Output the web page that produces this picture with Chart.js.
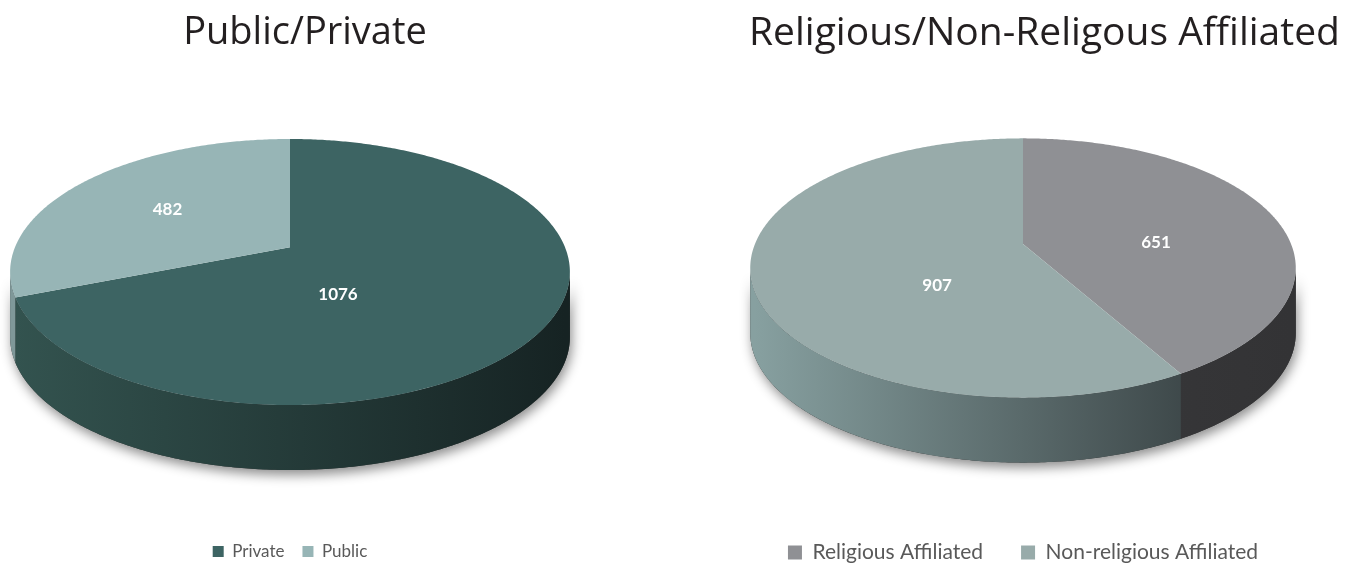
<!DOCTYPE html>
<html>
<head>
<meta charset="utf-8">
<script src="https://cdn.jsdelivr.net/npm/chart.js@4.4.0/dist/chart.umd.min.js"></script>
<style>
  body { margin: 0; background: #fff; overflow: hidden; width: 1349px; height: 563px; position: relative; }
  .box { position: absolute; top: 0; height: 563px; }
  #left { left: 0; width: 610px; }
  #right { left: 720px; width: 649px; }
  .title { position: absolute; top: 3px; text-align: center; font-family: 'Open Sans', sans-serif; color: #231f20; white-space: nowrap; }
  #leftTitle { left: 0; width: 610px; font-size: 38px; }
  #rightTitle { left: 720px; width: 649px; font-size: 39px; }
</style>
</head>
<body>
<div class="box" id="left"><canvas id="typeChart"></canvas></div>
<div class="box" id="right"><canvas id="faithChart"></canvas></div>
<div class="title" id="leftTitle">Public/Private</div>
<div class="title" id="rightTitle">Religious/Non-Religous Affiliated</div>
<script>
'use strict';

/* Data */
const typeLabels = ['Private', 'Public'];
const typeValues = [1076, 482];
const typeColors = ['#3d6463', '#97b5b6'];
const typeSides = [['#33534f', '#162323'], ['#7f9899', '#50605f']];

const faithLabels = ['Religious Affiliated', 'Non-religious Affiliated'];
const faithValues = [651, 907];
const faithColors = ['#8f9094', '#98abaa'];
const faithSides = [['#3e3e40', '#333335'], ['#87a0a0', '#2c3335']];

// centroid and area of a closed polygon
const polyCentroid = (pts) => {
  let A = 0, x = 0, y = 0;
  for (let i = 0; i < pts.length; i++) {
    const p0 = pts[i], p1 = pts[(i + 1) % pts.length];
    const c = p0[0] * p1[1] - p1[0] * p0[1];
    A += c;
    x += (p0[0] + p1[0]) * c;
    y += (p0[1] + p1[1]) * c;
  }
  A /= 2;
  if (Math.abs(A) < 1e-6) return { area: 0, x: 0, y: 0 };
  return { area: Math.abs(A), x: x / (6 * A), y: y / (6 * A) };
};

/* 3D look: tilted disc with a little perspective, drawn from the arc elements */
const pie3d = {
  id: 'pie3d',
  beforeDatasetsDraw(chart, args, opts) {
    const ctx = chart.ctx;
    const arcs = chart.getDatasetMeta(0).data;
    const area = chart.chartArea;
    const a = arcs[0].outerRadius;
    const b = a * opts.tilt;
    const p = opts.perspective;
    const depth = opts.depth;
    const cx = arcs[0].x;
    // centre the whole solid vertically in the chart area
    const h = b / (1 - p) + b / (1 + p) + depth;
    const cy = (area.top + area.bottom - h) / 2 + b / (1 + p);

    const proj = (theta, f) => {
      const u = f * Math.sin(theta);
      const v = -f * Math.cos(theta);
      const w = 1 - p * v;
      return [cx + a * u / w, cy + b * v / w];
    };
    const rim = (t0, t1, dy) => {
      const pts = [];
      const n = Math.max(2, Math.ceil(Math.abs(t1 - t0) / 0.01));
      for (let k = 0; k <= n; k++) {
        const pt = proj(t0 + (t1 - t0) * k / n, 1);
        pts.push([pt[0], pt[1] + dy]);
      }
      return pts;
    };
    const fillPoly = (pts, style) => {
      ctx.beginPath();
      pts.forEach((pt, k) => (k ? ctx.lineTo(pt[0], pt[1]) : ctx.moveTo(pt[0], pt[1])));
      ctx.closePath();
      ctx.fillStyle = style;
      ctx.fill();
    };
    const lo = Math.acos(-p);
    const hi = 2 * Math.PI - lo;

    ctx.save();
    // soft shadow under the solid
    ctx.save();
    ctx.shadowColor = 'rgba(0,0,0,0.45)';
    ctx.shadowBlur = 12;
    ctx.shadowOffsetX = 2;
    ctx.shadowOffsetY = 5;
    fillPoly(rim(lo, hi, 0).concat(rim(hi, lo, depth)), '#333');
    ctx.restore();

    const tops = [];
    const sideParts = [];
    // sides
    arcs.forEach((arc, i) => {
      const t0 = Math.max(arc.startAngle + Math.PI / 2, lo);
      const t1 = Math.min(arc.endAngle + Math.PI / 2, hi);
      if (t1 <= t0) { sideParts.push(null); return; }
      const g = ctx.createLinearGradient(cx - a, 0, cx + a, 0);
      g.addColorStop(0, opts.sides[i][0]);
      g.addColorStop(1, opts.sides[i][1]);
      const pts = rim(t0, t1, 0).concat(rim(t1, t0, depth));
      fillPoly(pts, g);
      sideParts.push(pts);
    });

    // top faces
    arcs.forEach((arc) => {
      const pts = [[cx, cy]].concat(rim(arc.startAngle + Math.PI / 2, arc.endAngle + Math.PI / 2, 0));
      fillPoly(pts, arc.options.backgroundColor);
      tops.push(pts);
    });

    // value labels: sector centroid, pulled towards the visible side face
    ctx.font = 'bold 17px Lato';
    ctx.fillStyle = '#ffffff';
    ctx.textAlign = 'center';
    ctx.textBaseline = 'middle';
    const values = chart.data.datasets[0].data;
    arcs.forEach((arc, i) => {
      const span = arc.endAngle - arc.startAngle;
      const f = 4 * Math.sin(span / 2) / (3 * span);
      const c = proj(arc.startAngle + Math.PI / 2 + span / 2, f);
      let W = polyCentroid(tops[i]).area;
      let X = c[0] * W, Y = c[1] * W;
      if (sideParts[i]) {
        const s = polyCentroid(sideParts[i]);
        const w = s.area * opts.sideWeight;
        W += w; X += s.x * w; Y += s.y * w;
      }
      ctx.fillText(String(values[i]), X / W, Y / W);
    });
    ctx.restore();
    return false;
  }
};

const makePie = (id, labels, values, colors, sides, radius, legendSize, legendBox, legendGap, pad) => {
  return new Chart(document.getElementById(id), {
    type: 'pie',
    data: {
      labels: labels,
      datasets: [{
        data: values,
        backgroundColor: colors,
        borderWidth: 0,
        radius: radius,
      }],
    },
    options: {
      responsive: true,
      maintainAspectRatio: false,
      animation: false,
      layout: { padding: pad },
      plugins: {
        tooltip: { enabled: false },
        title: { display: false },
        legend: {
          position: 'bottom',
          fullSize: false,
          labels: {
            color: '#595959',
            font: { family: 'Lato', size: legendSize },
            boxWidth: legendBox,
            boxHeight: legendBox,
            padding: legendGap,
          },
        },
        pie3d: { tilt: 0.467, perspective: 0.186, depth: 65, sides: sides, sideWeight: 0.6 },
      },
    },
    plugins: [pie3d],
  });
};

makePie('typeChart', typeLabels, typeValues, typeColors, typeSides, 275, 17, 11, 18,
  { left: 0, right: 30, top: 84, bottom: -7 });
makePie('faithChart', faithLabels, faithValues, faithColors, faithSides, 268, 21, 14, 38,
  { left: 0, right: 43, top: 97, bottom: -10 });
</script>
</body>
</html>
